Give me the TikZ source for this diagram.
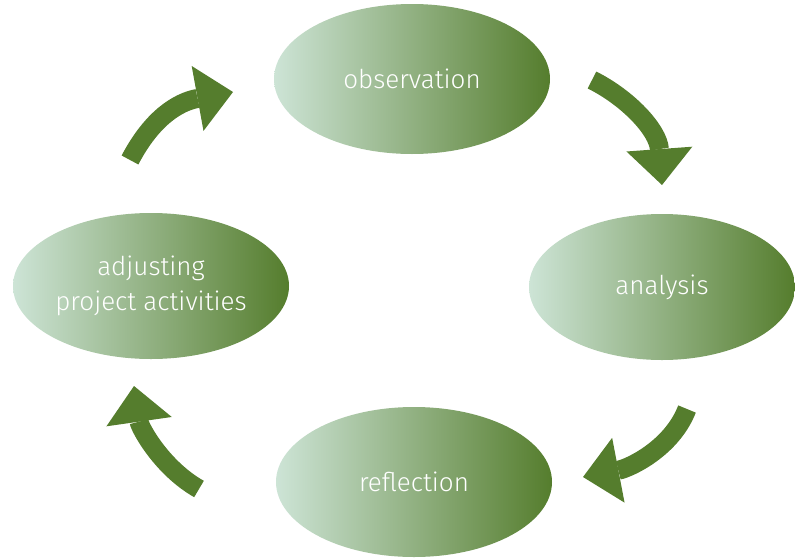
\documentclass[tikz,border=0pt]{standalone}
\usepackage{fontspec}
\IfFontExistsTF{Fira Sans Light}{\setmainfont{Fira Sans Light}}{\setmainfont{Fira Sans}}
\usetikzlibrary{shapes.geometric}
\usetikzlibrary{arrows.meta}
\definecolor{leaf}{HTML}{557D2D}
\definecolor{mint}{HTML}{CDE4D6}

\begin{document}
\begin{tikzpicture}[x=1pt,y=-1pt,
stage/.style={ellipse, minimum width=276pt, minimum height=150pt, inner sep=0pt,
  left color=mint, right color=leaf, text=white, align=center,
  font=\fontsize{26}{35}\selectfont},
turn/.style={draw=leaf, line width=19pt,
  -{Triangle[length=36pt,width=66pt,line width=0pt,fill=leaf]}}]
\useasboundingbox (0,0) rectangle (795,557);
\node[stage] (obs) at (412,79) {observation};
\node[stage, minimum width=266pt, minimum height=146pt] (ana) at (662,287) {analysis};
\node[stage] (ref) at (414,482) {reflection};
\node[stage, minimum height=146pt] (adj) at (151,286) {adjusting\\project activities};
\coordinate (s1) at (130,160); \coordinate (t1) at (233,92);
\coordinate (s2) at (592,80);  \coordinate (t2) at (662,185);
\coordinate (s3) at (687,409); \coordinate (t3) at (583,477);
\coordinate (s4) at (199,489); \coordinate (t4) at (134,386);
\draw[turn] (s1) .. controls (152,118) and (178,102) .. (t1);
\draw[turn] (s2) .. controls (628,98) and (658,130) .. (t2);
\draw[turn] (s3) .. controls (672,448) and (630,468) .. (t3);
\draw[turn] (s4) .. controls (162,468) and (140,428) .. (t4);
\end{tikzpicture}
\end{document}
